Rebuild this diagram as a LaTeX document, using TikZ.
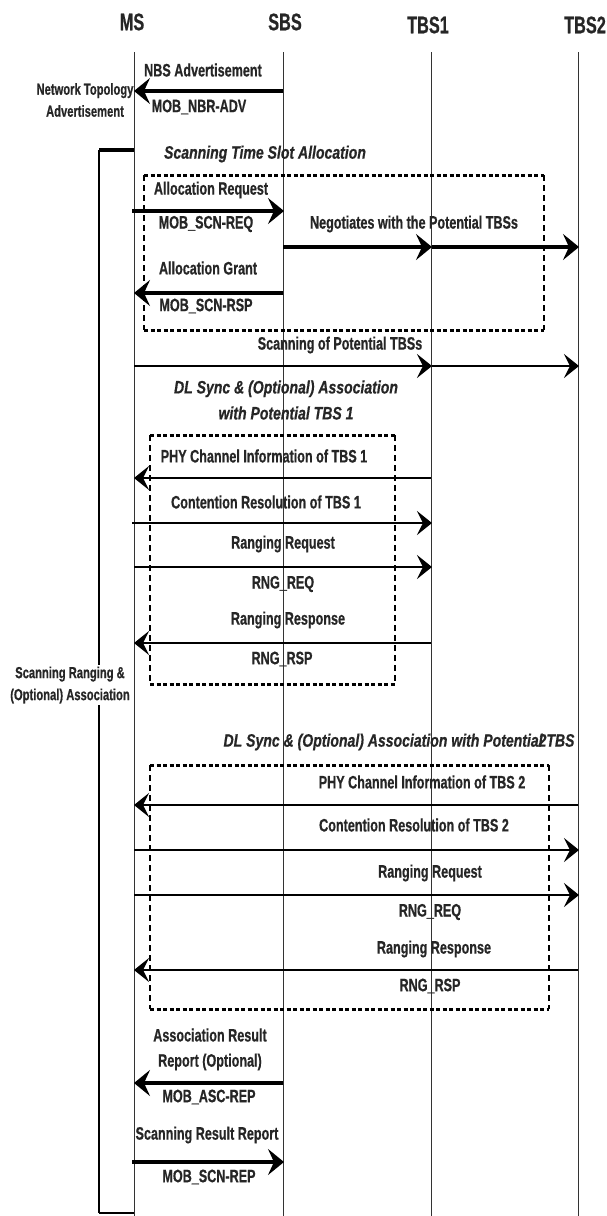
\documentclass[tikz,border=0pt]{standalone}
\usepackage{fontspec}
\setmainfont{Liberation Sans}[FakeStretch=0.7, BoldFeatures={FakeBold=0.6}]
\newfontfamily\itfont{Liberation Sans}[FakeStretch=0.78, BoldItalicFeatures={FakeBold=0.6}]
\newfontfamily\hdfont{Liberation Sans}[FakeStretch=0.68, BoldFeatures={FakeBold=0.6}]
\usetikzlibrary{arrows.meta}
\begin{document}
\begin{tikzpicture}[x=1pt,y=-1pt,
  lbl/.style={font=\fontsize{18}{19}\selectfont\bfseries, inner sep=0pt, text=black!85},
  small/.style={font=\fontsize{16}{22}\selectfont\bfseries, inner sep=1pt, text=black!85, align=center},
  itl/.style={font=\fontsize{18}{26}\selectfont\itfont\bfseries\itshape, inner sep=0pt, text=black!85, align=center},
  hdr/.style={font=\fontsize{24}{24}\selectfont\hdfont\bfseries, inner sep=0pt, text=black!85},
  life/.style={line width=1pt, black!80},
  thickarr/.style={line width=4pt, -{Stealth[length=16pt,width=26pt,inset=6pt]}},
  medarr/.style={line width=2.4pt, -{Stealth[length=15pt,width=24pt,inset=6pt]}},
  boxh/.style={line width=3pt, dash pattern=on 4pt off 2.5pt},
  boxv/.style={line width=2pt, dash pattern=on 6pt off 4pt},
]
\useasboundingbox (0,0) rectangle (607,1216);
\fill[white] (0,0) rectangle (607,1216);

% headers
\node[hdr] (hMS) at (132,22) {MS};
\node[hdr] (hSBS) at (285,22) {SBS};
\node[hdr] (hT1) at (428,25) {TBS1};
\node[hdr] (hT2) at (585,25) {TBS2};

% lifelines
\coordinate (msTop) at (134,52);  \coordinate (msBot) at (134,1216);
\coordinate (sbTop) at (283,52);  \coordinate (sbBot) at (283,1216);
\coordinate (t1Top) at (431,52);  \coordinate (t1Bot) at (431,1216);
\coordinate (t2Top) at (578,52);  \coordinate (t2Bot) at (578,1216);
\draw[life] (msTop) -- (msBot);
\draw[life] (sbTop) -- (sbBot);
\draw[life] (t1Top) -- (t1Bot);
\draw[life] (t2Top) -- (t2Bot);

% bracket
\coordinate (brA) at (134,150); \coordinate (brB) at (99,150);
\coordinate (brC) at (99,1213); \coordinate (brD) at (134,1213);
\draw[line width=3.5pt] (brA) -- (brB);
\draw[line width=1.8pt] (brB) -- (brC);
\draw[line width=1.5pt] (brC) -- (brD);
\node[small, fill=white, inner sep=2pt] (scanlbl) at (70,685) {Scanning Ranging \&\\(Optional) Association};

% network topology
\node[small] (ntlbl) at (85,100) {Network Topology\\Advertisement};

% dotted boxes
\coordinate (b1a) at (144,175); \coordinate (b1b) at (544,175);
\coordinate (b1c) at (544,330); \coordinate (b1d) at (144,330);
\draw[boxh] (b1a) -- (b1b); \draw[boxh] (b1d) -- (b1c);
\draw[boxv] (b1a) -- (b1d); \draw[boxv] (b1b) -- (b1c);

\coordinate (b2a) at (150,435); \coordinate (b2b) at (395,435);
\coordinate (b2c) at (395,684); \coordinate (b2d) at (150,684);
\draw[boxh] (b2a) -- (b2b); \draw[boxh] (b2d) -- (b2c);
\draw[boxv] (b2a) -- (b2d); \draw[boxv] (b2b) -- (b2c);

\coordinate (b3a) at (150,765); \coordinate (b3b) at (549,765);
\coordinate (b3c) at (549,1009); \coordinate (b3d) at (150,1009);
\draw[boxh] (b3a) -- (b3b); \draw[boxh] (b3d) -- (b3c);
\draw[boxv] (b3a) -- (b3d); \draw[boxv] (b3b) -- (b3c);

% labels
\node[lbl] (l1) at (203,70) {NBS Advertisement};
\node[lbl] (l2) at (199,107) {MOB\_NBR-ADV};
\node[itl] (l3) at (265,154) {Scanning Time Slot Allocation};
\node[lbl] (l4) at (211,190) {Allocation Request};
\node[lbl] (l5) at (206,224) {MOB\_SCN-REQ};
\node[lbl] (l6) at (414,224) {Negotiates with the Potential TBSs};
\node[lbl] (l7) at (208,268) {Allocation Grant};
\node[lbl] (l8) at (206,306) {MOB\_SCN-RSP};
\node[lbl] (l9) at (340,345) {Scanning of Potential TBSs};
\node[itl] (l10) at (286,400) {DL Sync \& (Optional) Association\\with Potential TBS 1};
\node[lbl] (l11) at (264,456) {PHY Channel Information of TBS 1};
\node[lbl] (l12) at (266,502) {Contention Resolution of TBS 1};
\node[lbl] (l13) at (283,544) {Ranging Request};
\node[lbl] (l14) at (283,584) {RNG\_REQ};
\node[lbl] (l15) at (288,620) {Ranging Response};
\node[lbl] (l16) at (282,659) {RNG\_RSP};
\node[itl] (l17) at (399,742) {DL Sync \& (Optional) Association with Potential\kern-4pt 2TBS};
\node[lbl] (l18) at (422,782) {PHY Channel Information of TBS 2};
\node[lbl] (l19) at (414,825) {Contention Resolution of TBS 2};
\node[lbl] (l20) at (430,873) {Ranging Request};
\node[lbl] (l21) at (430,912) {RNG\_REQ};
\node[lbl] (l22) at (434,949) {Ranging Response};
\node[lbl] (l23) at (430,986) {RNG\_RSP};
\node[lbl] (l24) at (210,1035) {Association Result};
\node[lbl] (l25) at (210,1062) {Report (Optional)};
\node[lbl] (l26) at (209,1097) {MOB\_ASC-REP};
\node[lbl] (l27) at (207,1135) {Scanning Result Report};
\node[lbl] (l28) at (209,1177) {MOB\_SCN-REP};

% message endpoints
\coordinate (m1s) at (283,91);   \coordinate (m1e) at (134,91);
\coordinate (m2s) at (132,211);  \coordinate (m2e) at (284,211);
\coordinate (m3s) at (283,247);  \coordinate (m3m) at (432,247); \coordinate (m3e) at (579,247);
\coordinate (m4s) at (283,293);  \coordinate (m4e) at (134,293);
\coordinate (m5s) at (134,366);  \coordinate (m5m) at (432,366); \coordinate (m5e) at (579,366);
\coordinate (m6s) at (431,478);  \coordinate (m6e) at (134,478);
\coordinate (m7s) at (132,523);  \coordinate (m7e) at (432,523);
\coordinate (m8s) at (134,567);  \coordinate (m8e) at (432,567);
\coordinate (m9s) at (431,643);  \coordinate (m9e) at (134,643);
\coordinate (m10s) at (578,805); \coordinate (m10e) at (134,805);
\coordinate (m11s) at (134,850); \coordinate (m11e) at (579,850);
\coordinate (m12s) at (134,895); \coordinate (m12e) at (579,895);
\coordinate (m13s) at (578,970); \coordinate (m13e) at (134,970);
\coordinate (m14s) at (283,1083); \coordinate (m14e) at (134,1083);
\coordinate (m15s) at (132,1162); \coordinate (m15e) at (284,1162);

\draw[thickarr] (m1s) -- (m1e);
\draw[thickarr] (m2s) -- (m2e);
\draw[thickarr] (m3s) -- (m3m);
\draw[thickarr] (m3m) -- (m3e);
\draw[thickarr] (m4s) -- (m4e);
\draw[medarr] (m5s) -- (m5m);
\draw[medarr] (m5m) -- (m5e);
\draw[medarr] (m6s) -- (m6e);
\draw[medarr] (m7s) -- (m7e);
\draw[medarr] (m8s) -- (m8e);
\draw[medarr] (m9s) -- (m9e);
\draw[medarr] (m10s) -- (m10e);
\draw[medarr] (m11s) -- (m11e);
\draw[medarr] (m12s) -- (m12e);
\draw[medarr] (m13s) -- (m13e);
\draw[thickarr] (m14s) -- (m14e);
\draw[thickarr] (m15s) -- (m15e);
\end{tikzpicture}
\end{document}
